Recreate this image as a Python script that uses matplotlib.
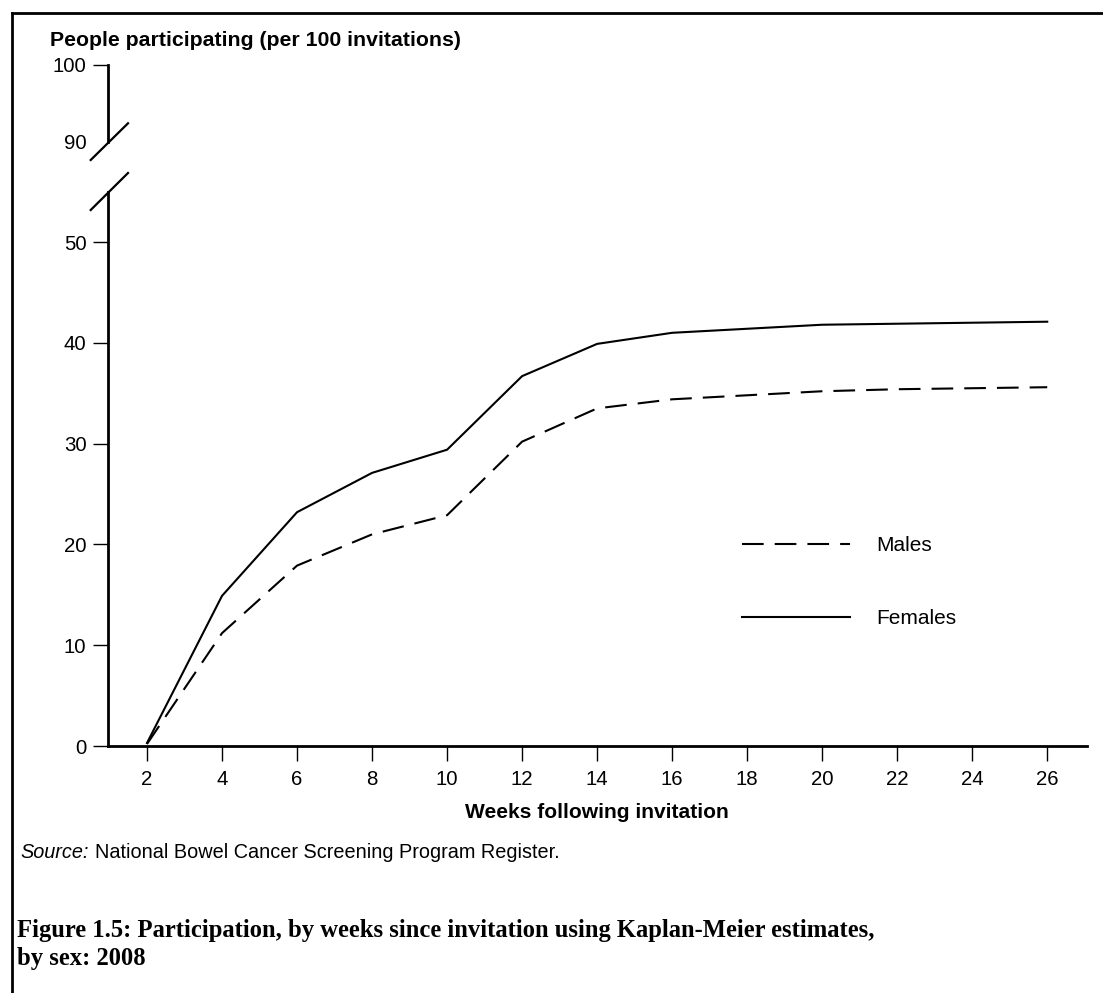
import matplotlib
matplotlib.use("Agg")
import matplotlib.pyplot as plt
from matplotlib.lines import Line2D

# ---- data ----
weeks = [2, 4, 6, 8, 10, 12, 14, 16, 18, 20, 22, 24, 26]
females = [0.3, 14.9, 23.2, 27.1, 29.4, 36.7, 39.9, 41.0, 41.4, 41.8, 41.9, 42.0, 42.1]
males = [0.2, 11.2, 17.9, 21.0, 22.9, 30.2, 33.5, 34.4, 34.8, 35.2, 35.4, 35.5, 35.6]
series_labels = ["Males", "Females"]
lower_yticks = [0, 10, 20, 30, 40, 50]
upper_yticks = [90, 100]

W, H = 1103, 993
plt.rcParams['font.family'] = ['Liberation Sans', 'DejaVu Sans']
fig = plt.figure(figsize=(W / 100, H / 100), dpi=100)

def fx(px):
    return px / W

def fy(py):
    return 1 - py / H

# axes geometry (pixels)
ax_left, ax_right = 108, 1087
low_top, low_bot = 191.7, 746
up_top, up_bot = 65, 141.7

ax = fig.add_axes([fx(ax_left), fy(low_bot), fx(ax_right - ax_left), (low_bot - low_top) / H])
axu = fig.add_axes([fx(ax_left), fy(up_bot), fx(ax_right - ax_left), (up_bot - up_top) / H])

tick_fs = 14.7
x = list(range(len(weeks)))
lw = 1.5
lm, = ax.plot(x, males, color='black', lw=lw, linestyle=(0, (10.4, 5.3)), label=series_labels[0])
lf, = ax.plot(x, females, color='black', lw=lw, linestyle='-', label=series_labels[1])

ax.set_xlim(-0.52, 12.53)
ax.set_ylim(0, 55)
ax.set_xticks(x)
ax.set_xticklabels([str(w) for w in weeks])
ax.set_yticks(lower_yticks)
for s in ['top', 'right']:
    ax.spines[s].set_visible(False)
for s in ['left', 'bottom']:
    ax.spines[s].set_linewidth(2.0)
ax.tick_params(axis='both', direction='out', length=11, width=1.0, labelsize=tick_fs, color='black')
ax.tick_params(axis='x', pad=6)
ax.tick_params(axis='y', pad=4.5)

axu.set_xlim(-0.52, 12.53)
axu.set_ylim(90, 100)
axu.set_yticks(upper_yticks)
axu.set_xticks([])
for s in ['top', 'right', 'bottom']:
    axu.spines[s].set_visible(False)
axu.spines['left'].set_linewidth(2.0)
axu.tick_params(axis='y', direction='out', length=11, width=1.0, labelsize=tick_fs, pad=4.5)
axu.yaxis.get_major_ticks()[0].tick1line.set_visible(False)
axu.patch.set_visible(False)

# axis break slashes
for (x0, y0, x1, y1) in [(90.7, 160, 128, 123.3), (90.7, 210, 128, 173)]:
    fig.add_artist(Line2D([fx(x0), fx(x1)], [fy(y0), fy(y1)], transform=fig.transFigure,
                          color='black', lw=1.6))

# frame (top and left only)
fig.add_artist(Line2D([fx(12), fx(W)], [fy(13), fy(13)], transform=fig.transFigure, color='black', lw=2.0))
fig.add_artist(Line2D([fx(12), fx(12)], [fy(13), fy(H)], transform=fig.transFigure, color='black', lw=2.0))

# legend
fs = 15
fspx = fs * 100 / 72
ax.legend(handles=[lm, lf], loc='upper left', bbox_to_anchor=(fx(742), fy(536)),
          bbox_transform=fig.transFigure, frameon=False, fontsize=fs,
          handlelength=108 / fspx, handletextpad=26 / fspx, labelspacing=2.6,
          borderpad=0, borderaxespad=0)

# texts
fig.text(fx(50), fy(40), "People participating (per 100 invitations)", fontsize=15.3,
         fontweight='bold', ha='left', va='center')
fig.text(fx(597), fy(813), "Weeks following invitation", fontsize=15.1,
         fontweight='bold', ha='center', va='center')
src_fs = 14.3
fig.text(fx(20), fy(852), "Source:", fontsize=src_fs, style='italic', ha='left', va='center')
fig.text(fx(95), fy(852), "National Bowel Cancer Screening Program Register.", fontsize=src_fs,
         ha='left', va='center')
cap_font = ['Liberation Serif', 'DejaVu Serif']
fig.text(fx(17), fy(931), "Figure 1.5: Participation, by weeks since invitation using Kaplan-Meier estimates,",
         fontsize=17.7, fontweight='bold', family=cap_font, ha='left', va='center')
fig.text(fx(17), fy(958), "by sex: 2008",
         fontsize=17.7, fontweight='bold', family=cap_font, ha='left', va='center')

fig.savefig("out.png", dpi=100)
